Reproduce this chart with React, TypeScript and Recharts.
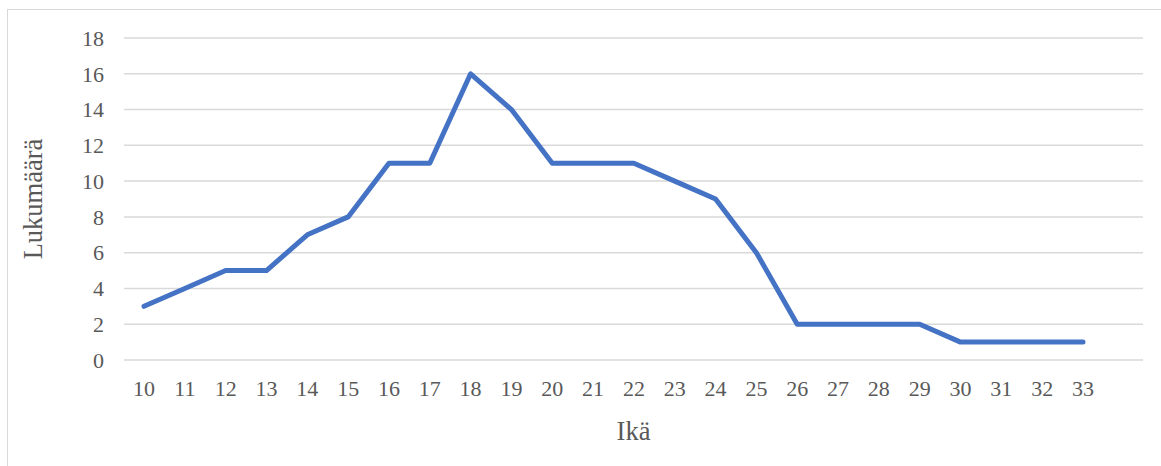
import React from 'react';
import { LineChart, Line, XAxis, YAxis, CartesianGrid } from 'recharts';

const ages: string[] = ['10','11','12','13','14','15','16','17','18','19','20','21','22','23','24','25','26','27','28','29','30','31','32','33'];
const counts: number[] = [3,4,5,5,7,8,11,11,16,14,11,11,11,10,9,6,2,2,2,2,1,1,1,1];
const yTicks: number[] = [0,2,4,6,8,10,12,14,16,18];

const data = ages.map((a, i) => ({ age: a, count: counts[i] }));

const font = { fontFamily: '"Liberation Serif", "Times New Roman", serif', fontSize: 22, fill: '#595959' };
const titleFont = { fontFamily: '"Liberation Serif", "Times New Roman", serif', fontSize: 26.5, fill: '#595959' };

export default function App() {
  return (
    <div style={{ position: 'fixed', left: 0, top: 0, width: 1161, height: 466, overflow: 'hidden', background: '#fff' }}>
      <div style={{ position: 'absolute', left: 7, top: 9, width: 1200, height: 520, border: '1.5px solid #D9D9D9', boxSizing: 'border-box' }} />
      <div style={{ position: 'absolute', left: 0, top: 0 }}>
        <LineChart width={1161} height={466} data={data} margin={{ top: 38, right: 18, bottom: 66, left: 64 }}>
          <CartesianGrid vertical={false} stroke="#D9D9D9" strokeWidth={1.5} />
          <XAxis
            dataKey="age"
            axisLine={false}
            tickLine={false}
            tickSize={0}
            tickMargin={20}
            height={40}
            interval={0}
            padding={{ left: 20, right: 60 }}
            tick={font}
            label={{ value: 'Ikä', position: 'bottom', offset: 21, style: titleFont }}
          />
          <YAxis
            domain={[0, 18]}
            ticks={yTicks}
            axisLine={false}
            tickLine={false}
            tickSize={0}
            tickMargin={20}
            width={60}
            interval={0}
            tick={font}
            label={{ value: 'Lukumäärä', angle: -90, position: 'insideLeft', offset: -31, style: { ...titleFont, textAnchor: 'middle' } }}
          />
          <Line
            type="linear"
            dataKey="count"
            stroke="#4472C4"
            strokeWidth={5}
            strokeLinecap="round"
            strokeLinejoin="round"
            dot={false}
            activeDot={false}
            isAnimationActive={false}
          />
        </LineChart>
      </div>
    </div>
  );
}
